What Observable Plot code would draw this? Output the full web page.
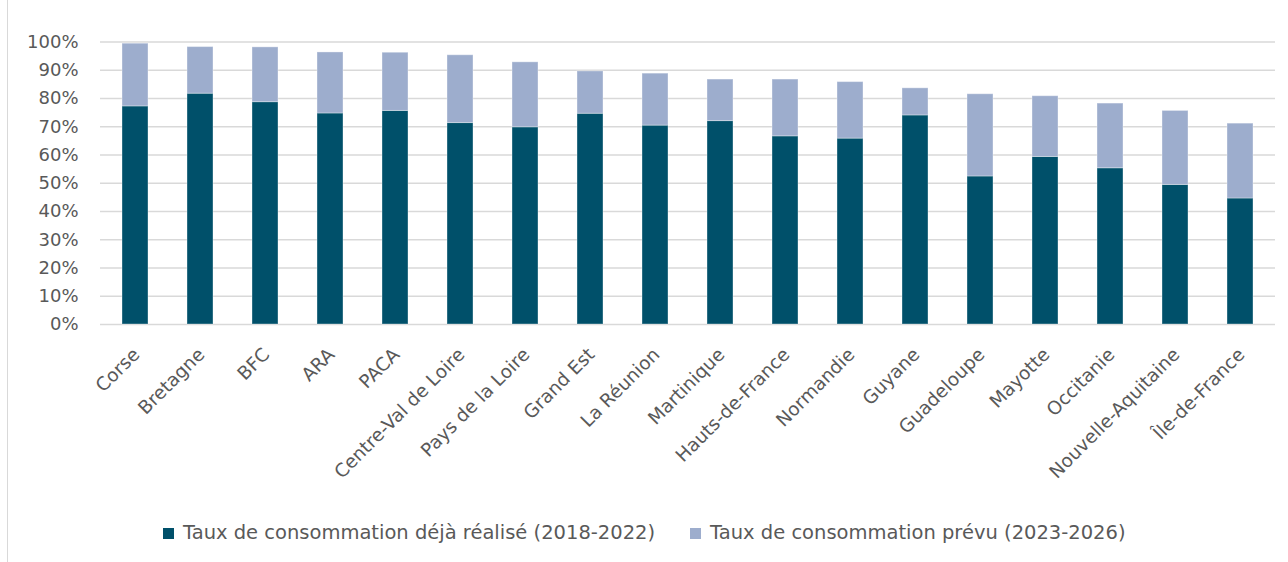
<!DOCTYPE html>
<html>
<head>
<meta charset="utf-8">
<script src="https://cdn.jsdelivr.net/npm/d3@7"></script>
<script src="https://cdn.jsdelivr.net/npm/@observablehq/plot@0.6"></script>
<style>
  html, body { margin: 0; padding: 0; background: #fff; }
  #wrap { position: relative; width: 1288px; height: 562px; overflow: hidden; font-family: "DejaVu Sans", sans-serif; }
  #chart { position: absolute; left: 0; top: 0; }
  #frame { position: absolute; left: 7px; top: 0; width: 1px; height: 562px; background: #d9d9d9; z-index: 2; }
  #legend { position: absolute; left: 163px; top: 521px; display: flex; align-items: center; font-size: 19.5px; line-height: 24px; color: #595959; white-space: nowrap; }
  .item { display: flex; align-items: center; margin-right: 35px; }
  .sw { width: 11px; height: 11px; margin-right: 9px; }
</style>
</head>
<body>
<div id="wrap">
  <div id="chart"></div>
  <div id="frame"></div>
  <div id="legend"></div>
</div>
<script>
const categories = ["Corse","Bretagne","BFC","ARA","PACA","Centre-Val de Loire","Pays de la Loire","Grand Est","La Réunion","Martinique","Hauts-de-France","Normandie","Guyane","Guadeloupe","Mayotte","Occitanie","Nouvelle-Aquitaine","Île-de-France"];
const realise = [0.772,0.817,0.787,0.747,0.756,0.713,0.698,0.746,0.704,0.720,0.666,0.658,0.740,0.524,0.593,0.553,0.494,0.446];
const prevu   = [0.222,0.165,0.194,0.216,0.206,0.240,0.230,0.150,0.184,0.147,0.201,0.200,0.096,0.291,0.215,0.229,0.262,0.265];
const seriesNames = ["Taux de consommation déjà réalisé (2018-2022)", "Taux de consommation prévu (2023-2026)"];
const seriesColors = ["#00506a", "#9dadcd"];
const yTicks = [0,0.1,0.2,0.3,0.4,0.5,0.6,0.7,0.8,0.9,1.0];

const data = [];
categories.forEach((c, i) => {
  data.push({region: c, serie: seriesNames[0], value: realise[i]});
  data.push({region: c, serie: seriesNames[1], value: prevu[i]});
});

const textColor = "#595959";
const chart = Plot.plot({
  width: 1288,
  height: 500,
  marginTop: 41.5,
  marginBottom: 176,
  marginLeft: 100,
  marginRight: 13,
  style: {fontFamily: "DejaVu Sans, sans-serif", background: "transparent"},
  x: {domain: categories, paddingInner: 0.6, paddingOuter: 0.3, label: null, axis: null},
  y: {domain: [0, 1], label: null, axis: null},
  color: {domain: seriesNames, range: seriesColors},
  marks: [
    Plot.gridY(yTicks, {stroke: "#d9d9d9", strokeOpacity: 1, strokeWidth: 1.5}),
    Plot.barY(data, {x: "region", y: "value", fill: "serie", order: seriesNames, stroke: "#ffffff", strokeOpacity: 0.35, strokeWidth: 1}),
    Plot.axisY(yTicks, {tickSize: 0, tickPadding: 22, tickFormat: d3.format(".0%"), fontSize: 18, fill: textColor}),
    Plot.text(categories, {x: d => d, frameAnchor: "bottom", dx: 1, dy: 27, rotate: -45, textAnchor: "end", lineAnchor: "middle", fontSize: 18.5, fill: textColor})
  ]
});
document.getElementById("chart").appendChild(chart);

const legend = document.getElementById("legend");
seriesNames.forEach((n, i) => {
  const it = document.createElement("div");
  it.className = "item";
  const sw = document.createElement("div");
  sw.className = "sw";
  sw.style.background = seriesColors[i];
  const t = document.createElement("span");
  t.textContent = n;
  it.appendChild(sw); it.appendChild(t);
  legend.appendChild(it);
});
</script>
</body>
</html>
